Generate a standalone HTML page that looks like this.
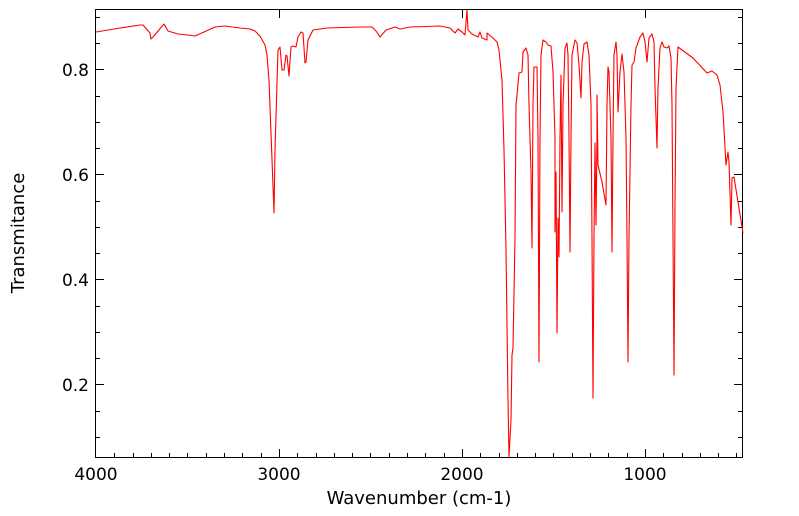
<!DOCTYPE html>
<html><head><style>body{margin:0;background:#fff}svg{display:block}text{font-family:"DejaVu Sans","Liberation Sans",sans-serif;font-size:17px;fill:#000}.al{font-size:18px}</style></head>
<body>
<svg width="799" height="516" xmlns="http://www.w3.org/2000/svg">
<rect x="95.5" y="9.5" width="647" height="448" fill="none" stroke="#000" stroke-width="1"/>
<g stroke="#000" stroke-width="1">
<path d="M96 69.5h8M96 174.5h8M96 279.5h8M96 384.5h8M742 69.5h-8M742 174.5h-8M742 279.5h-8M742 384.5h-8"/>
<path d="M96 17.5h4M96 43.5h4M96 96.5h4M96 122.5h4M96 148.5h4M96 201.5h4M96 227.5h4M96 253.5h4M96 306.5h4M96 332.5h4M96 358.5h4M96 411.5h4M96 437.5h4"/>
<path d="M742 17.5h-4M742 43.5h-4M742 96.5h-4M742 122.5h-4M742 148.5h-4M742 201.5h-4M742 227.5h-4M742 253.5h-4M742 306.5h-4M742 332.5h-4M742 358.5h-4M742 411.5h-4M742 437.5h-4"/>
<path d="M279.5 457v-8M462.5 457v-8M645.5 457v-8M279.5 10v8M462.5 10v8M645.5 10v8"/>
<path d="M114.5 457v-4M133.5 457v-4M151.5 457v-4M169.5 457v-4M187.5 457v-4M206.5 457v-4M224.5 457v-4M242.5 457v-4M261.5 457v-4M297.5 457v-4M316.5 457v-4M334.5 457v-4M352.5 457v-4M370.5 457v-4M389.5 457v-4M407.5 457v-4M425.5 457v-4M444.5 457v-4M480.5 457v-4M499.5 457v-4M517.5 457v-4M535.5 457v-4M553.5 457v-4M572.5 457v-4M590.5 457v-4M608.5 457v-4M627.5 457v-4M663.5 457v-4M682.5 457v-4M700.5 457v-4M718.5 457v-4M736.5 457v-4"/>
</g>
<g text-anchor="end"><text x="89" y="76">0.8</text><text x="89" y="181">0.6</text><text x="89" y="286">0.4</text><text x="89" y="391">0.2</text></g>
<g text-anchor="middle"><text x="96" y="480">4000</text><text x="279" y="480">3000</text><text x="462" y="480">2000</text><text x="645" y="480">1000</text>
<text class="al" x="419" y="504">Wavenumber (cm-1)</text>
<text class="al" transform="translate(24,233) rotate(-90)">Transmitance</text></g>
<polyline fill="none" stroke="#f00" stroke-width="1.1" stroke-linejoin="round" points="96,32 120,28 140,25 143,25 150,33 151,39 153,37 164,24 168,31 178,34 188,35 195,36 204,32 215,27 225,26 240,28 250,29 255,31 260,36 265,45 267,55 269,80 271,133 274,213 275,150 277,83 278,50 280,47 282,70 284,70 286,55 287,56 289,76 291,47 293,46 296,47 298,37 301,32 303,33 305,63 306,62 308,40 313,30 327,28 360,27 372,27 376,31 380,37 386,30 395,27 400,29 405,28 410,27 440,26 450,28 455,33 458,29 462,32 465,35 467,10 468,30 472,34 478,37 480,32 482,38 487,40 487,33 493,38 497,42 499,50 502,80 504,150 506,250 508,400 509,457 511,420 512,355 513,348 515,238 516,105 517,95 519,73 522,72 523,52 526,48 528,55 529,105 531,172 532,248 533,105 534,67 537,67 538,138 539,362 540,138 541,55 543,40 546,42 548,45 551,46 553,72 555,138 555,232 556,172 557,333 558,218 559,257 560,138 561,75 562,212 563,105 565,48 567,43 568,55 569,138 570,252 571,138 572,55 575,40 577,43 579,65 581,98 582,62 584,44 587,42 589,55 591,105 592,238 593,398 594,238 595,143 596,225 597,138 597,95 598,165 602,182 606,205 607,105 608,67 609,72 611,138 612,252 613,138 614,55 616,42 617,55 618,112 620,72 622,54 624,72 626,138 627,238 628,362 629,238 631,105 632,65 634,62 636,48 640,37 643,33 645,42 647,62 649,38 652,34 654,42 655,88 657,148 658,88 660,48 662,42 664,47 667,48 669,46 671,58 672,105 673,238 674,375 675,205 676,88 678,47 693,58 707,73 712,71 717,75 720,85 723,112 726,165 728,152 729,162 731,225 732,178 734,177 738,202 743,233"/>
</svg>
</body></html>
